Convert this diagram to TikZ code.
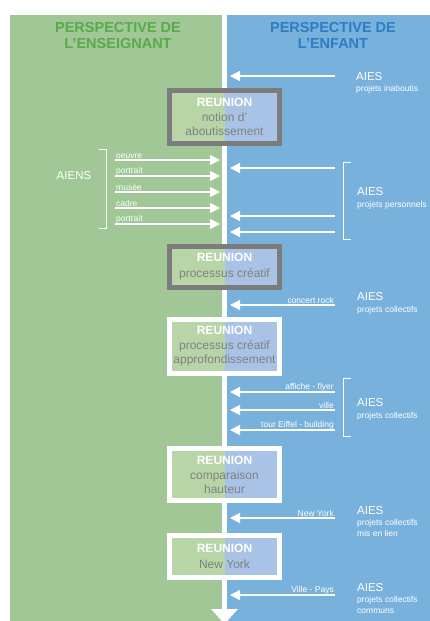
\documentclass[tikz,border=0pt]{standalone}
\usepackage{fontspec}
\setmainfont{Liberation Sans}
\usetikzlibrary{arrows.meta}
\definecolor{pgreen}{HTML}{A0C795}
\definecolor{pblue}{HTML}{78B2DC}
\definecolor{lgreen}{HTML}{B8D5A8}
\definecolor{lblue}{HTML}{A8C3E6}
\definecolor{hgreen}{HTML}{5AAA4B}
\definecolor{hblue}{HTML}{2E7DC2}
\definecolor{bgray}{HTML}{7C7C7C}
\definecolor{tgray}{HTML}{808080}
\begin{document}
\begin{tikzpicture}[x=1pt,y=-1pt,
  reunion/.style={draw=#1, line width=5pt, minimum width=110pt, align=center,
    font=\fontsize{12}{14}\selectfont, text=tgray, inner sep=0pt,
    path picture={
      \fill[lgreen] (path picture bounding box.south west) rectangle (path picture bounding box.north);
      \fill[lblue] (path picture bounding box.south) rectangle (path picture bounding box.north east);}},
  arr/.style={white, line width=1.2pt, -{Triangle[length=10pt,width=10pt]}},
  small/.style={text=white, inner sep=1pt, font=\fontsize{8.5}{9}\selectfont},
  aies/.style={text=white, anchor=west, inner sep=0pt, font=\fontsize{11.5}{12}\selectfont},
  sub/.style={text=white, anchor=west, inner sep=0pt, font=\fontsize{8.5}{10}\selectfont},
  head/.style={align=center, font=\fontsize{14.5}{16.5}\selectfont\bfseries},
  brack/.style={white, line width=0.8pt}]
\clip (0,0) rectangle (430,621);
\fill[white] (0,0) rectangle (430,621);
% panels
\fill[pgreen] (10,15) rectangle (222,621);
\fill[pblue] (227,15) rectangle (430,621);
% headers
\node[head, text=hgreen] (hl) at (118,35.5) {PERSPECTIVE DE\\L'ENSEIGNANT};
\node[head, text=hblue] (hr) at (333,35.5) {PERSPECTIVE DE\\L'ENFANT};
% central line
\coordinate (top) at (224.5,15);
\coordinate (bot) at (224.5,624);
\draw[white, line width=5pt, -{Triangle[width=26pt,length=15pt]}] (top) -- (bot);
% reunion boxes
\node[reunion=bgray, minimum height=53pt] (r1) at (224.5,117)
  {\textbf{\textcolor{white}{REUNION}}\\[1pt]notion d'\\aboutissement};
\node[reunion=bgray, minimum height=41pt] (r2) at (224.5,267)
  {\textbf{\textcolor{white}{REUNION}}\\[2pt]processus créatif};
\node[reunion=white, minimum height=54pt] (r3) at (224.5,346.5)
  {\textbf{\textcolor{white}{REUNION}}\\[1pt]processus créatif\\approfondissement};
\node[reunion=white, minimum height=52pt] (r4) at (224.5,474.5)
  {\textbf{\textcolor{white}{REUNION}}\\[1pt]comparaison\\hauteur};
\node[reunion=white, minimum height=42pt] (r5) at (224.5,556.5)
  {\textbf{\textcolor{white}{REUNION}}\\[2pt]New York};
% left side AIENS
\node[text=white, font=\fontsize{11.5}{12}\selectfont] (aiens) at (74,176) {AIENS};
\draw[brack] (99,149) -- (106.7,149) -- (106.7,228) -- (99,228);
\foreach \i/\y/\t in {1/160/oeuvre, 2/176/portrait, 3/192/musée, 4/208/cadre, 5/224/portrait}{
  \coordinate (ls\i) at (115,\y);
  \coordinate (le\i) at (220,\y);
  \draw[arr] (ls\i) -- (le\i);
  \node[small, anchor=south west] (ll\i) at (ls\i) {\t};
}
% right side group 1
\coordinate (s1) at (335,76); \coordinate (e1) at (230,76);
\draw[arr] (s1) -- (e1);
\node[aies] (a1) at (356,77) {AIES};
\node[sub] (b1) at (356,89.5) {projets inaboutis};
% group 2
\foreach \i/\y in {2/168, 3/216, 4/232}{
  \coordinate (s\i) at (335,\y); \coordinate (e\i) at (230,\y);
  \draw[arr] (s\i) -- (e\i);
}
\draw[brack] (351,162) -- (343,162) -- (343,239) -- (351,239);
\node[aies] (a2) at (357,192) {AIES};
\node[sub] (b2) at (357,205) {projets personnels};
% group 3
\coordinate (s5) at (335,305); \coordinate (e5) at (230,305);
\draw[arr] (s5) -- (e5);
\node[small, anchor=south east] (l5) at (s5) {concert rock};
\node[aies] (a3) at (357,297) {AIES};
\node[sub] (b3) at (357,310) {projets collectifs};
% group 4
\foreach \i/\y/\t in {6/392/affiche - flyer, 7/410/ville, 8/430/tour Eiffel - building}{
  \coordinate (s\i) at (335,\y); \coordinate (e\i) at (230,\y);
  \draw[arr] (s\i) -- (e\i);
  \node[small, anchor=south east] (l\i) at (s\i) {\t};
}
\draw[brack] (351,378) -- (343,378) -- (343,436) -- (351,436);
\node[aies] (a4) at (357,403) {AIES};
\node[sub] (b4) at (357,416) {projets collectifs};
% group 5
\coordinate (s9) at (335,518); \coordinate (e9) at (230,518);
\draw[arr] (s9) -- (e9);
\node[small, anchor=south east] (l9) at (s9) {New York};
\node[aies] (a5) at (357,511) {AIES};
\node[sub] (b5) at (357,523) {projets collectifs};
\node[sub] (c5) at (357,533) {mis en lien};
% group 6
\coordinate (s10) at (335,595); \coordinate (e10) at (230,595);
\draw[arr] (s10) -- (e10);
\node[small, anchor=south east] (l10) at (s10) {Ville - Pays};
\node[aies] (a6) at (357,588) {AIES};
\node[sub] (b6) at (357,600) {projets collectifs};
\node[sub] (c6) at (357,611) {communs};
\end{tikzpicture}
\end{document}
